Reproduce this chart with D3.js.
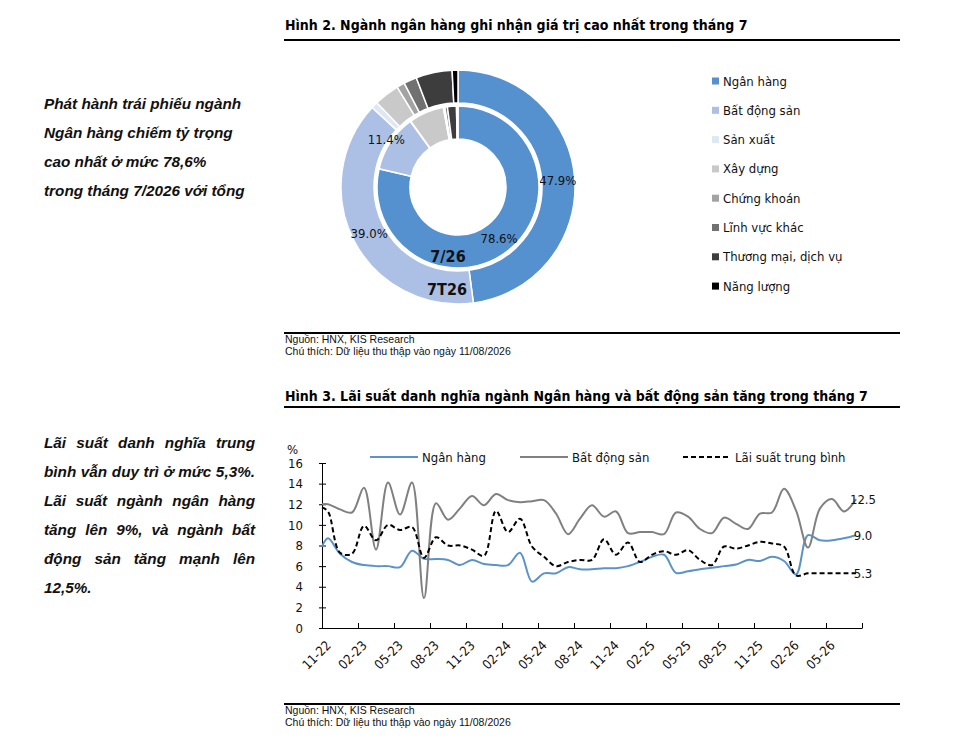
<!DOCTYPE html>
<html>
<head>
<meta charset="utf-8">
<script src="https://cdn.jsdelivr.net/npm/d3@7/dist/d3.min.js"></script>
<style>
  body { margin: 0; background: #fff; }
  .lbl { font-family: "DejaVu Sans Condensed", "DejaVu Sans", sans-serif; font-size: 13px; fill: #111; }
  .title { font-family: "Liberation Sans Narrow", "DejaVu Sans Condensed", sans-serif; font-size: 14px; font-weight: bold; }
  .note { font-family: "Liberation Sans", Arial, sans-serif; font-size: 10.5px; fill: #111; }
  .side { font-family: "Liberation Sans", Arial, sans-serif; font-size: 15.3px; font-weight: bold; font-style: italic; fill: #111; }
</style>
</head>
<body>
<script>
// ---- Hình 2: cơ cấu phát hành theo ngành (%)
const sectors = ["Ngân hàng", "Bất động sản", "Sản xuất", "Xây dựng", "Chứng khoán",
                 "Lĩnh vực khác", "Thương mại, dịch vụ", "Năng lượng"];
const sectorColors = ["#5590cf", "#abc0e4", "#dfe7f3", "#c9c9c9", "#a3a3a3", "#717171", "#3d3d3d", "#000000"];
const share7T26 = [47.9, 39.0, 0.9, 3.5, 1.1, 1.8, 5.0, 0.8];   // vòng ngoài
const share726 = [78.6, 11.4, 0.1, 7.0, 0.3, 0.5, 1.8, 0.3];    // vòng trong

// ---- Hình 3: lãi suất danh nghĩa (%), tháng tính từ 11-22
const obsMonth = [0].concat(d3.range(0.5, 45, 1));
const rateBank = [7.9, 8.7, 7.2, 6.4, 6.1, 6.0, 6.0, 5.9, 7.5, 6.7, 6.7, 6.6, 6.1, 6.6, 6.2, 6.1,
  6.1, 7.3, 4.5, 5.3, 5.3, 5.9, 5.7, 5.7, 5.8, 5.8, 6.0, 6.4, 6.9, 7.1, 5.35, 5.5, 5.7, 5.85,
  6.0, 6.15, 6.6, 6.5, 6.9, 6.5, 5.2, 9.0, 8.5, 8.5, 8.7, 9.0];
const rateRealEstate = [12.0, 12.0, 11.5, 11.2, 13.6, 7.6, 14.1, 11.0, 14.1, 2.9, 12.1, 10.5, 11.6,
  12.8, 11.9, 13.0, 12.4, 12.2, 12.3, 12.4, 11.1, 9.1, 10.6, 11.9, 10.8, 11.3, 9.2, 9.3, 9.3, 9.1,
  11.2, 10.8, 9.6, 9.2, 10.7, 10.1, 9.6, 11.1, 11.2, 13.5, 11.4, 7.8, 11.6, 12.5, 11.3, 12.5];
const rateAverage = [11.7, 11.3, 7.3, 7.2, 9.9, 8.5, 10.0, 9.5, 9.8, 6.8, 8.8, 8.0, 8.0, 7.6, 7.0,
  11.35, 9.3, 10.6, 7.9, 6.9, 6.0, 6.4, 6.6, 6.6, 8.6, 7.1, 8.3, 6.4, 7.1, 7.45, 7.1, 7.55, 6.6,
  6.1, 7.9, 7.7, 8.0, 8.35, 8.2, 7.9, 5.1, 5.3, 5.3, 5.3, 5.3, 5.3];
const xTickLabels = ["11-22", "02-23", "05-23", "08-23", "11-23", "02-24", "05-24", "08-24",
  "11-24", "02-25", "05-25", "08-25", "11-25", "02-26", "05-26"];
const yTicks = [0, 2, 4, 6, 8, 10, 12, 14, 16];

const lineSeries = [
  { name: "Ngân hàng", values: rateBank, color: "#5b93c9", dash: null },
  { name: "Bất động sản", values: rateRealEstate, color: "#808080", dash: null },
  { name: "Lãi suất trung bình", values: rateAverage, color: "#000", dash: "5,3" }
];

const svg = d3.select("body").append("svg")
  .attr("width", 968)
  .attr("height", 750);

// ---- headings, rules, footnotes
function heading(textY, ruleY, text) {
  svg.append("text").attr("class", "title").attr("x", 285).attr("y", textY).text(text);
  svg.append("line").attr("x1", 284).attr("x2", 900).attr("y1", ruleY).attr("y2", ruleY)
    .attr("stroke", "#000").attr("stroke-width", 2);
}
function footnote(y) {
  svg.append("line").attr("x1", 284).attr("x2", 900).attr("y1", y).attr("y2", y)
    .attr("stroke", "#000").attr("stroke-width", 2);
  svg.append("text").attr("class", "note").attr("x", 285).attr("y", y + 10).text("Nguồn: HNX, KIS Research");
  svg.append("text").attr("class", "note").attr("x", 285).attr("y", y + 22).text("Chú thích: Dữ liệu thu thập vào ngày 11/08/2026");
}
heading(30, 40, "Hình 2. Ngành ngân hàng ghi nhận giá trị cao nhất trong tháng 7");
footnote(333);
heading(401, 407, "Hình 3. Lãi suất danh nghĩa ngành Ngân hàng và bất động sản tăng trong tháng 7");
footnote(704);

// ---- side notes
function sideText(lines, y0, justifyWidth) {
  lines.forEach((t, i) => {
    const el = svg.append("text").attr("class", "side").attr("x", 44).attr("y", y0 + i * 29).text(t);
    if (justifyWidth && i < lines.length - 1) {
      const spaces = t.split(" ").length - 1;
      const w = el.node().getComputedTextLength();
      el.attr("word-spacing", (justifyWidth - w) / spaces);
    }
  });
}
sideText(["Phát hành trái phiếu ngành", "Ngân hàng chiếm tỷ trọng", "cao nhất ở mức 78,6%",
  "trong tháng 7/2026 với tổng"], 109, null);
sideText(["Lãi suất danh nghĩa trung", "bình vẫn duy trì ở mức 5,3%.", "Lãi suất ngành ngân hàng",
  "tăng lên 9%, và ngành bất", "động sản tăng mạnh lên", "12,5%."], 448, 211);

// ---- donut
const donut = svg.append("g").attr("transform", "translate(458,187)");
const pie = d3.pie().sort(null).value(d => d.v);
const rings = [
  { name: "7T26", data: share7T26, inner: 84, outer: 117, labelR: () => 100 },
  { name: "7/26", data: share726, inner: 48, outer: 81, labelR: v => (v > 50 ? 66 : 86) }
];
rings.forEach(ring => {
  const arcs = pie(ring.data.map((v, i) => ({ v, i })));
  const arc = d3.arc().innerRadius(ring.inner).outerRadius(ring.outer);
  donut.append("g").selectAll("path")
    .data(arcs)
    .join("path")
    .attr("d", arc)
    .attr("fill", d => sectorColors[d.data.i])
    .attr("stroke", "#fff")
    .attr("stroke-width", 1.5);
  donut.append("g").selectAll("text")
    .data(arcs.filter(d => d.data.v >= 10))
    .join("text")
    .attr("class", "lbl")
    .attr("transform", d => {
      const r = ring.labelR(d.data.v);
      const a = (d.startAngle + d.endAngle) / 2;
      return `translate(${r * Math.sin(a)},${-r * Math.cos(a)})`;
    })
    .attr("text-anchor", "middle")
    .attr("dy", "0.35em")
    .text(d => d3.format(".1f")(d.data.v) + "%");
});
donut.append("text").attr("class", "lbl").attr("x", -10).attr("y", 75)
  .attr("text-anchor", "middle").style("font-size", "16px").style("font-weight", "bold").text("7/26");
donut.append("text").attr("class", "lbl").attr("x", -11).attr("y", 108)
  .attr("text-anchor", "middle").style("font-size", "16px").style("font-weight", "bold").text("7T26");

// donut legend
const leg = svg.append("g").attr("transform", "translate(712,81)");
sectors.forEach((s, i) => {
  const row = leg.append("g").attr("transform", `translate(0,${i * 29.3})`);
  row.append("rect").attr("x", 0).attr("y", -3.5).attr("width", 7).attr("height", 7)
    .attr("fill", sectorColors[i]);
  row.append("text").attr("class", "lbl").attr("x", 11).attr("dy", "0.35em").text(s);
});

// ---- line chart
const x = d3.scaleLinear().domain([0, 45]).range([322, 862]);
const y = d3.scaleLinear().domain([0, 16]).range([628, 463]);

const yAxis = svg.append("g")
  .attr("transform", "translate(322,0)")
  .call(d3.axisLeft(y).tickValues(yTicks).tickSizeInner(3).tickSizeOuter(0).tickPadding(16));
yAxis.selectAll(".tick line").attr("x2", 4).attr("x1", -3);

const xAxis = svg.append("g")
  .attr("transform", "translate(0,628)")
  .call(d3.axisBottom(x).tickValues(d3.range(0, 46, 3)).tickSizeInner(-5).tickSizeOuter(0)
    .tickFormat((d, i) => xTickLabels[i] || ""));
xAxis.selectAll(".tick text")
  .attr("text-anchor", "end")
  .attr("transform", "translate(6,15) rotate(-45)")
  .attr("x", 0).attr("y", 0).attr("dy", "0.35em");

[yAxis, xAxis].forEach(g => {
  g.selectAll("text").attr("class", "lbl").attr("fill", null);
  g.selectAll("path,line").attr("stroke", "#000");
});

svg.append("text").attr("class", "lbl").attr("x", 287).attr("y", 454).text("%");

const line = d3.line()
  .x((d, i) => x(obsMonth[i]))
  .y(d => y(d))
  .curve(d3.curveCatmullRom.alpha(0.5));

lineSeries.forEach(s => {
  svg.append("path")
    .attr("d", line(s.values))
    .attr("fill", "none")
    .attr("stroke", s.color)
    .attr("stroke-width", 2)
    .attr("stroke-dasharray", s.dash);
  const last = s.values[s.values.length - 1];
  svg.append("text").attr("class", "lbl")
    .attr("x", x(45) + 1).attr("y", y(last)).attr("dy", "0.35em")
    .attr("text-anchor", "middle")
    .text(d3.format(".1f")(last));
});

// line legend
const legX = [370, 520, 683];
lineSeries.forEach((s, i) => {
  svg.append("line").attr("x1", legX[i]).attr("x2", legX[i] + 48).attr("y1", 457).attr("y2", 457)
    .attr("stroke", s.color).attr("stroke-width", 2).attr("stroke-dasharray", s.dash);
  svg.append("text").attr("class", "lbl").attr("x", legX[i] + 52).attr("y", 457)
    .attr("dy", "0.35em").text(s.name);
});
</script>
</body>
</html>
